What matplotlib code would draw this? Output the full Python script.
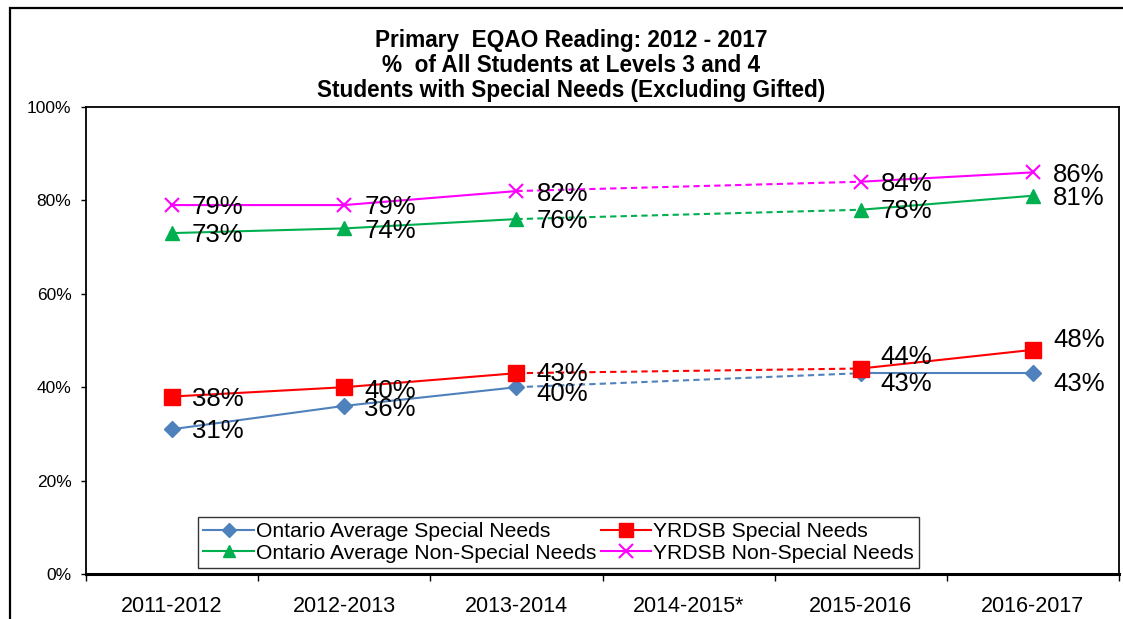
import matplotlib
matplotlib.use("Agg")
import matplotlib.pyplot as plt
import numpy as np
from matplotlib.patches import Rectangle
from matplotlib.lines import Line2D

plt.rcParams['font.family'] = ['Liberation Sans', 'DejaVu Sans']

categories = ["2011-2012", "2012-2013", "2013-2014", "2014-2015*", "2015-2016", "2016-2017"]
ontario_special = [31, 36, 40, np.nan, 43, 43]
yrdsb_special = [38, 40, 43, np.nan, 44, 48]
ontario_non = [73, 74, 76, np.nan, 78, 81]
yrdsb_non = [79, 79, 82, np.nan, 84, 86]
series_names = ["Ontario Average Special Needs", "YRDSB Special Needs",
                "Ontario Average Non-Special Needs", "YRDSB Non-Special Needs"]
y_ticks = [0, 20, 40, 60, 80, 100]
title_lines = ["Primary  EQAO Reading: 2012 - 2017",
               "%  of All Students at Levels 3 and 4",
               "Students with Special Needs (Excluding Gifted)"]

W, H = 1123, 619
fig = plt.figure(figsize=(W / 100, H / 100), dpi=100)
fig.patch.set_facecolor("white")
L, R, T, B = 86, 1119, 107, 574
ax = fig.add_axes([L / W, 1 - B / H, (R - L) / W, (B - T) / H])

# outer frame
fig.add_artist(Rectangle((10 / W, -0.05), 1.2, 1.05 - 8 / H,
                         transform=fig.transFigure, fill=False, edgecolor="black",
                         linewidth=1.6, clip_on=False))

x = np.arange(len(categories))
series = [ontario_special, yrdsb_special, ontario_non, yrdsb_non]
colors = ["#4F81BD", "#FF0000", "#00B050", "#FF00FF"]
markers = ["D", "s", "^", "x"]
msizes = [8, 11, 10, 9.5]

# label vertical offsets in pixels (positive = downward)
dy_px = [
    [1, 2, 6, None, 10, 10],
    [1, 3, 0, None, -13, -11],
    [1, 2, 1, None, 0, 1],
    [1, 1, 2, None, 1, 2],
]
px2pt = 0.72

for s, c, m, ms, dys in zip(series, colors, markers, msizes, dy_px):
    s = np.array(s, dtype=float)
    valid = ~np.isnan(s)
    ax.plot(x[:3], s[:3], color=c, lw=1.5, zorder=3)
    ax.plot(x[4:], s[4:], color=c, lw=1.5, zorder=3)
    ax.plot([x[2], x[4]], [s[2], s[4]], color=c, lw=1.5, ls=(0, (3, 2)), zorder=3)
    if m == "x":
        mkw = dict(markeredgecolor=c, markeredgewidth=1.5)
    else:
        mkw = dict(markeredgecolor=c, markerfacecolor=c)
    ax.plot(x[valid], s[valid], ls="none", marker=m, markersize=ms, zorder=4, **mkw)
    for xi, yi, dy in zip(x, s, dys):
        if np.isnan(yi):
            continue
        ax.annotate(f"{int(yi)}%", (xi, yi), xytext=(20 * px2pt, -(dy + 1) * px2pt),
                    textcoords="offset points", ha="left", va="center",
                    fontsize=18.5, color="black", zorder=5)

ax.set_xlim(-0.5, len(categories) - 0.5)
ax.set_ylim(0, 100)
ax.set_yticks(y_ticks)
ax.set_yticklabels([f"{v}%" for v in y_ticks], fontsize=12.5)
ax.set_xticks(x)
ax.set_xticklabels(categories, fontsize=15.5)
ax.set_xticks(np.arange(-0.5, len(categories)), minor=True)
ax.tick_params(axis="x", which="major", length=0, pad=16)
ax.tick_params(axis="x", which="minor", length=5, direction="out", width=1)
ax.tick_params(axis="y", length=3.5, direction="out", width=1, pad=7)
for sp in ["top", "right", "left"]:
    ax.spines[sp].set_linewidth(1.3)
ax.spines["bottom"].set_linewidth(2.2)

handles = []
for c, m, ms, name in zip(colors, markers, msizes, series_names):
    if m == "x":
        h = Line2D([], [], color=c, lw=1.5, marker=m, markersize=ms, markeredgewidth=1.5, label=name)
    else:
        h = Line2D([], [], color=c, lw=1.5, marker=m, markersize=ms * 0.9,
                   markerfacecolor=c, markeredgecolor=c, label=name)
    handles.append(h)
# reorder so that rows read: [OS, YS], [ON, YN]
order = [0, 2, 1, 3]
leg = ax.legend(handles=[handles[i] for i in order], loc="lower left",
                bbox_to_anchor=((198 - L) / (R - L), (B - 568) / (B - T)),
                ncol=2, fontsize=15.2, frameon=True, fancybox=False, edgecolor="black",
                handlelength=2.4, handletextpad=0.1, columnspacing=0.2, labelspacing=0.12,
                borderpad=0.25, borderaxespad=0)
leg.get_frame().set_linewidth(1.0)

for i, line in enumerate(title_lines):
    fig.text(571 / W, 1 - (40 + 25.5 * i) / H, line, ha="center", va="center",
             fontsize=16.3, fontweight="bold")

fig.savefig("out.png", dpi=100, facecolor="white")
